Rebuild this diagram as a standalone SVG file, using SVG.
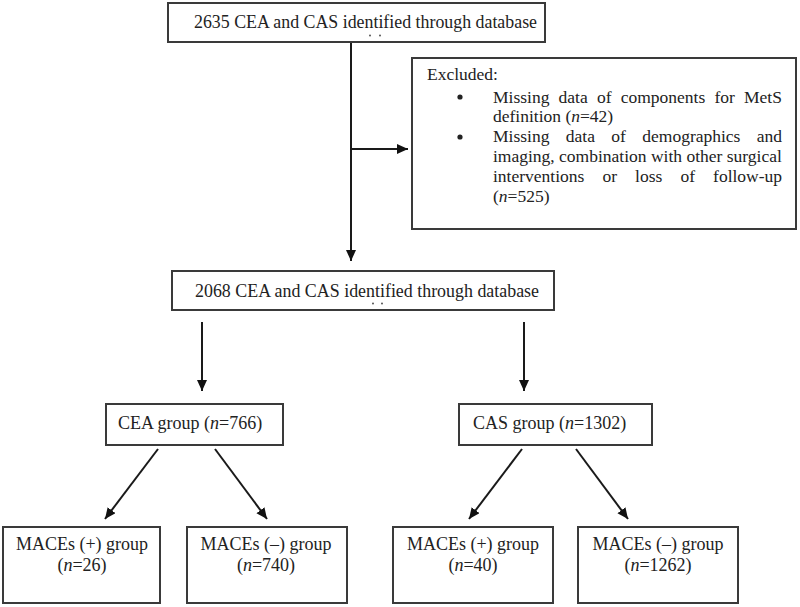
<svg xmlns="http://www.w3.org/2000/svg" width="800" height="607" viewBox="0 0 800 607">
<defs>
<marker id="ah" markerUnits="userSpaceOnUse" markerWidth="12" markerHeight="12" refX="11" refY="5" orient="auto">
<path d="M0,0 L11,5 L0,10 z" fill="#111"/>
</marker>
<style>
.box{fill:#fff;stroke:#3a3a3a;stroke-width:2}
.t{font-family:"Liberation Serif","Times New Roman",serif;font-size:18px;fill:#222}
.x{font-size:17.5px}
.c{text-anchor:middle}
.i{font-style:italic}
.ln{stroke:#1a1a1a;stroke-width:2;fill:none;marker-end:url(#ah)}
</style>
</defs>
<rect width="800" height="607" fill="#fff"/>
<g id="connectors">
<line class="ln" x1="351" y1="42" x2="351" y2="261"/>
<line class="ln" x1="351" y1="149" x2="408" y2="149"/>
<line class="ln" x1="202" y1="322" x2="202" y2="391"/>
<line class="ln" x1="524" y1="322" x2="524" y2="391"/>
<line class="ln" x1="158" y1="449" x2="105" y2="519"/>
<line class="ln" x1="215" y1="449" x2="267" y2="519"/>
<line class="ln" x1="522" y1="449" x2="469" y2="519"/>
<line class="ln" x1="576" y1="449" x2="628" y2="519"/>
</g>
<g id="n-top">
<rect class="box" x="168" y="3" width="377" height="39"/>
<text class="t" x="194" y="28" textLength="343" lengthAdjust="spacingAndGlyphs">2635 CEA and CAS identified through database</text>
<circle cx="370" cy="35.5" r="0.9" fill="#444"/>
<circle cx="380" cy="35.5" r="0.9" fill="#444"/>
</g>
<g id="n-excluded">
<rect class="box" x="412" y="58" width="384" height="171"/>
<text class="t x" x="427" y="80">Excluded:</text>
<circle cx="460" cy="97" r="2.6" fill="#222"/>
<circle cx="460" cy="137" r="2.6" fill="#222"/>
<text class="t x" x="493" y="103" word-spacing="4.8">Missing data of components for MetS</text>
<text class="t x" x="493" y="122">definition (<tspan class="i">n</tspan>=42)</text>
<text class="t x" x="493" y="142" word-spacing="12">Missing data of demographics and</text>
<text class="t x" x="493" y="162">imaging, combination with other surgical</text>
<text class="t x" x="493" y="182" word-spacing="13.7">interventions or loss of follow-up</text>
<text class="t x" x="493" y="202">(<tspan class="i">n</tspan>=525)</text>
</g>
<g id="n-2068">
<rect class="box" x="172" y="271" width="382" height="39"/>
<text class="t" x="195" y="297" textLength="344" lengthAdjust="spacingAndGlyphs">2068 CEA and CAS identified through database</text>
<circle cx="373" cy="303.5" r="0.9" fill="#444"/>
<circle cx="382" cy="303.5" r="0.9" fill="#444"/>
</g>
<g id="n-cea">
<rect class="box" x="106" y="404" width="177" height="41"/>
<text class="t" x="118" y="429">CEA group (<tspan class="i">n</tspan>=766)</text>
</g>
<g id="n-cas">
<rect class="box" x="459" y="404" width="193" height="41"/>
<text class="t" x="473" y="429">CAS group (<tspan class="i">n</tspan>=1302)</text>
</g>
<g id="n-cea-pos">
<rect class="box" x="3" y="527" width="157" height="76"/>
<text class="t c" x="82" y="550">MACEs (+) group</text>
<text class="t c" x="82" y="571">(<tspan class="i">n</tspan>=26)</text>
</g>
<g id="n-cea-neg">
<rect class="box" x="187" y="527" width="160" height="76"/>
<text class="t c" x="266" y="550">MACEs (–) group</text>
<text class="t c" x="266" y="571">(<tspan class="i">n</tspan>=740)</text>
</g>
<g id="n-cas-pos">
<rect class="box" x="393" y="527" width="160" height="76"/>
<text class="t c" x="473" y="550">MACEs (+) group</text>
<text class="t c" x="473" y="571">(<tspan class="i">n</tspan>=40)</text>
</g>
<g id="n-cas-neg">
<rect class="box" x="578" y="527" width="160" height="76"/>
<text class="t c" x="658" y="550">MACEs (–) group</text>
<text class="t c" x="658" y="571">(<tspan class="i">n</tspan>=1262)</text>
</g>
</svg>
